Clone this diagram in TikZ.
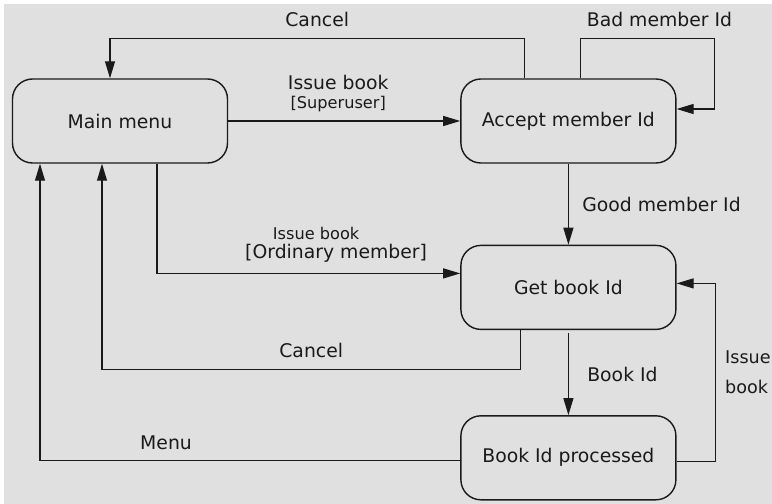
\documentclass[tikz,border=0pt]{standalone}
\usepackage{fontspec}
\setmainfont{DejaVu Sans}
\usetikzlibrary{arrows.meta,positioning}
\definecolor{stgray}{HTML}{E0E0E0}
\definecolor{stink}{HTML}{1A1A1A}

\begin{document}
\begin{tikzpicture}[>={Triangle[length=3.4mm,width=2mm]},font=\fontsize{10.7}{13}\selectfont,text=stink]
        \tikzset{state/.style={draw=stink,line width=0.8pt,fill=stgray,rounded corners=0.4cm,minimum width=4.3cm,minimum height=1.68cm,align=center},
                 flow/.style={->,draw=stink,line width=0.65pt},
                 small/.style={font=\fontsize{9.2}{11}\selectfont}}
        \useasboundingbox (0,0) rectangle (15.44,-10.08);
        \fill[white] (0,0) rectangle (15.44,-10.08);
        \fill[stgray] (0.08,-0.08) rectangle (15.44,-10.08);
        \node[state] (main) at (2.4,-2.42) {Main menu};
        \node[state,right=4.64cm of main] (accept) {Accept member Id};
        \node[state,below=1.62cm of accept] (getbook) {Get book Id};
        \node[state,below=1.7cm of getbook] (processed) {Book Id processed};
        \draw[flow] ([xshift=-0.88cm]accept.north) -- ++(0,0.8) -| node[pos=0.25,above=1mm] {Cancel} ([xshift=-0.2cm]main.north);
        \draw[flow] ([xshift=0.24cm]accept.north) -- ++(0,0.8) -| node[pos=0.25,above=1mm,xshift=0.24cm] {Bad member Id} ([xshift=0.76cm,yshift=0.24cm]accept.east) -- ([yshift=0.24cm]accept.east);
        \draw[flow] (main.east) -- node[above=0.5mm,xshift=-0.12cm,align=center] {Issue book\\[-2pt]{\fontsize{9.2}{11}\selectfont[Superuser]}} (accept.west);
        \draw[flow] (accept.south) -- node[right=0.15cm] {Good member Id} (getbook.north);
        \draw[flow] ([xshift=0.74cm]main.south) |- node[pos=0.75,above=1mm,xshift=0.55cm] {[Ordinary member]} node[pos=0.75,above=0.55cm,xshift=0.15cm,small] {Issue book} ([yshift=0.28cm]getbook.west);
        \draw[flow] ([xshift=-0.96cm]getbook.south) -- ++(0,-0.78) -| node[pos=0.25,above=1mm] {Cancel} ([xshift=-0.36cm]main.south);
        \draw[flow] ([yshift=-0.06cm]getbook.south) -- node[right=0.25cm] {Book Id} (processed.north);
        \draw[flow] ([yshift=-0.08cm]processed.east) -- ++(0.78,0) |- node[pos=0.25,right=0.18cm,inner sep=0pt,align=left,font=\fontsize{10}{17}\selectfont] {Issue\\book} ([yshift=0.08cm]getbook.east);
        \draw[flow] ([yshift=-0.06cm]processed.west) -| node[pos=0.35,above=1mm] {Menu} ([xshift=-1.6cm]main.south);
      \end{tikzpicture}
\end{document}
